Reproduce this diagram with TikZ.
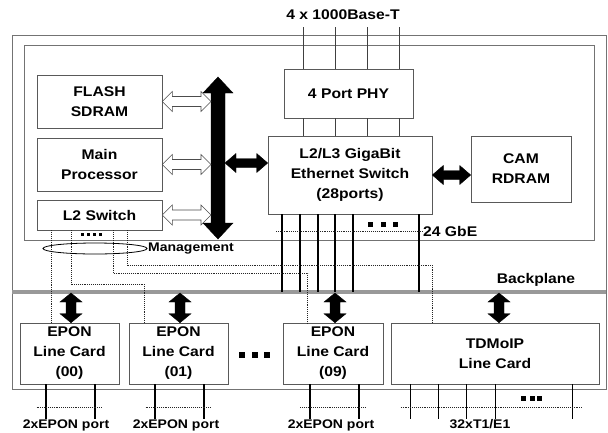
\documentclass[tikz,border=0pt]{standalone}
\usepackage{fontspec}
\setmainfont{Liberation Sans}[FakeStretch=1.12]
\usetikzlibrary{calc}
\newcommand\labfont{\fontsize{14}{20}\selectfont\bfseries}
\newcommand\smallfont{\fontsize{12.5}{14}\selectfont\bfseries}
% horizontal double arrow: style, left point, right point, shaft half width, head half width, head length
\newcommand\myHArrow[6]{\draw[#1] let \p1=(#2),\p2=(#3) in (\x1,\y1) -- (\x1+#6pt,\y1+#5pt) -- (\x1+#6pt,\y1+#4pt) -- (\x2-#6pt,\y1+#4pt) -- (\x2-#6pt,\y1+#5pt) -- (\x2,\y1) -- (\x2-#6pt,\y1-#5pt) -- (\x2-#6pt,\y1-#4pt) -- (\x1+#6pt,\y1-#4pt) -- (\x1+#6pt,\y1-#5pt) -- cycle;}
% vertical double arrow: style, top point, bottom point, shaft half width, head half width, head length
\newcommand\myVArrow[6]{\draw[#1] let \p1=(#2),\p2=(#3) in (\x1,\y1) -- (\x1+#5pt,\y1-#6pt) -- (\x1+#4pt,\y1-#6pt) -- (\x1+#4pt,\y2+#6pt) -- (\x1+#5pt,\y2+#6pt) -- (\x1,\y2) -- (\x1-#5pt,\y2+#6pt) -- (\x1-#4pt,\y2+#6pt) -- (\x1-#4pt,\y1-#6pt) -- (\x1-#5pt,\y1-#6pt) -- cycle;}
\begin{document}
\begin{tikzpicture}[x=1pt,y=-1pt,
  box/.style={draw=black!65, line width=0.6pt, fill=white, align=center, font=\labfont, inner sep=0pt},
  frame/.style={draw=black!55, line width=0.6pt, inner sep=0pt},
  lbl/.style={font=\labfont, inner sep=0pt},
  smalllbl/.style={font=\smallfont, inner sep=0pt},
  busarrow/.style={fill=black, draw=black, line width=0.4pt},
  hollow/.style={fill=white, draw=black!70, line width=0.6pt},
  conn/.style={draw=black!75, line width=0.7pt},
  portline/.style={draw=black, line width=1.4pt},
  dl/.style={draw=black!85, line width=0.9pt, densely dotted},
  backplane/.style={draw=black!40, line width=4pt}
]
\useasboundingbox (0,0) rectangle (608,432);

% chassis and board frames
\node[frame, minimum width=594pt, minimum height=354pt] (chassis) at (309,212) {};
\node[frame, minimum width=570pt, minimum height=195pt] (board) at (309,142.5) {};

% backplane
\coordinate (bpL) at (12,292);
\coordinate (bpR) at (606,292);
\draw[backplane] (bpL) -- (bpR);

% boxes
\node[box, minimum width=125pt, minimum height=53pt] (fl) at (99.5,101.5) {FLASH\\SDRAM};
\node[box, minimum width=125pt, minimum height=53pt] (mp) at (99.5,164.5) {Main\\Processor};
\node[box, minimum width=125pt, minimum height=30pt] (l2) at (99.5,215) {L2 Switch};
\node[box, minimum width=129pt, minimum height=49pt] (phy) at (348.5,93.5) {4 Port PHY};
\node[box, minimum width=164pt, minimum height=78pt] (sw) at (350,175) {L2/L3 GigaBit\\Ethernet Switch\\(28ports)};
\node[box, minimum width=100pt, minimum height=66pt] (cam) at (521,169) {CAM\\RDRAM};
\node[box, minimum width=99pt, minimum height=61pt] (c00) at (69.5,353.5) {EPON\\Line Card\\(00)};
\node[box, minimum width=99pt, minimum height=61pt] (c01) at (178.5,353.5) {EPON\\Line Card\\(01)};
\node[box, minimum width=100pt, minimum height=61pt] (c09) at (333,353.5) {EPON\\Line Card\\(09)};
\node[box, minimum width=208pt, minimum height=61pt] (tdm) at (495,353.5) {TDMoIP\\Line Card};

% labels
\node[lbl] (top) at (343,15) {4 x 1000Base-T};
\node[lbl, anchor=west] (gbe) at (423,231) {24 GbE};
\node[lbl] (bpl) at (536,280) {Backplane};
\node[smalllbl, anchor=west] (mg) at (148,249) {Management};
\node[smalllbl, anchor=base] (p00) at (66,428) {2xEPON port};
\node[smalllbl, anchor=base] (p01) at (176,428) {2xEPON port};
\node[smalllbl, anchor=base] (p09) at (331,428) {2xEPON port};
\node[smalllbl, anchor=base] (pt1) at (480,428) {32xT1/E1};

% PHY lines
\foreach \dx in {-45.5,-13.5,18.5,50.5}{
  \draw[conn] (phy.north) ++(\dx,0) -- ++(0,-42);
  \draw[conn] (phy.south) ++(\dx,0) -- ++(0,18);
}

% switch to backplane lines
\foreach \dx in {-68,-50,-32,-15,3,69}
  \draw[portline] (sw.south) ++(\dx,0) -- ++(0,78);
\coordinate (gL) at (276,231);
\draw[dl] (gL) -- (gbe.west);
\foreach \x in {370.5,383.5,395.5} \fill (\x-2.5,221.5) rectangle ++(5,5);

% system bus
\coordinate (bt) at (218,77);
\coordinate (bb) at (218,239);
\myVArrow{busarrow}{bt}{bb}{7}{15}{16}
\coordinate (busL) at (211,0);
\coordinate (busR) at (225,163);
\myHArrow{hollow}{fl.east}{busL}{5}{10}{10}
\myHArrow{hollow}{mp.east}{busL}{5}{10}{10}
\myHArrow{hollow}{l2.east}{busL}{5}{10}{10}
\myHArrow{busarrow}{busR}{sw.west}{4.5}{9.5}{11}
\myHArrow{busarrow}{sw.east}{cam.west}{4.5}{9.5}{11}

% management lines from L2 switch
\coordinate (d1) at ($(l2.south)+(-48.5,0)$);
\coordinate (d2) at ($(l2.south)+(-28.5,0)$);
\coordinate (d3) at ($(l2.south)+(13.5,0)$);
\coordinate (d4) at ($(l2.south)+(27.5,0)$);
\coordinate (e2) at ($(c01.north west)+(16,0)$);
\coordinate (e3) at ($(c09.north west)+(25,0)$);
\coordinate (e4) at ($(tdm.north west)+(42,0)$);
\draw[dl] (d1) -- (d1 |- c00.north);
\draw[dl] (d2) -- ++(0,54) -| (e2);
\draw[dl] (d3) -- ++(0,43) -| (e3);
\draw[dl] (d4) -- ++(0,35) -| (e4);
\foreach \x in {82,88,94,100} \fill (\x-1.5,232.5) rectangle ++(3,3);
\draw[draw=black, line width=0.8pt] (95,248.5) ellipse [x radius=52, y radius=5.5];

% backplane to line card arrows
\coordinate (a0) at (71,293);
\coordinate (a1) at (180,293);
\coordinate (a9) at (335,293);
\coordinate (at) at (499,293);
\myVArrow{busarrow}{a0}{c00.north}{5}{11}{9}
\myVArrow{busarrow}{a1}{c01.north}{5}{11}{9}
\myVArrow{busarrow}{a9}{c09.north}{5}{11}{9}
\myVArrow{busarrow}{at}{tdm.north}{5}{11}{9}

% dots between line cards
\foreach \x in {242,254.5,267} \fill (\x-3,351.5) rectangle ++(6,6);

% ports
\foreach \c/\a/\b in {c00/-23.5/25.5, c01/-23.5/25.5, c09/-23/26}{
  \draw[portline] (\c.south) ++(\a,0) -- ++(0,35);
  \draw[portline] (\c.south) ++(\b,0) -- ++(0,35);
  \draw[dl] (\c.south) ++(-33,23) -- ++(66,0);
}
\foreach \dx in {20,48,76,105,182}
  \draw[portline] (tdm.south west) ++(\dx,0) -- ++(0,35);
\draw[dl] (tdm.south west) ++(10,23) -- ++(181,0);
\foreach \x in {523,532,539.5} \fill (\x-2.5,395.5) rectangle ++(5,5);
\end{tikzpicture}
\end{document}
